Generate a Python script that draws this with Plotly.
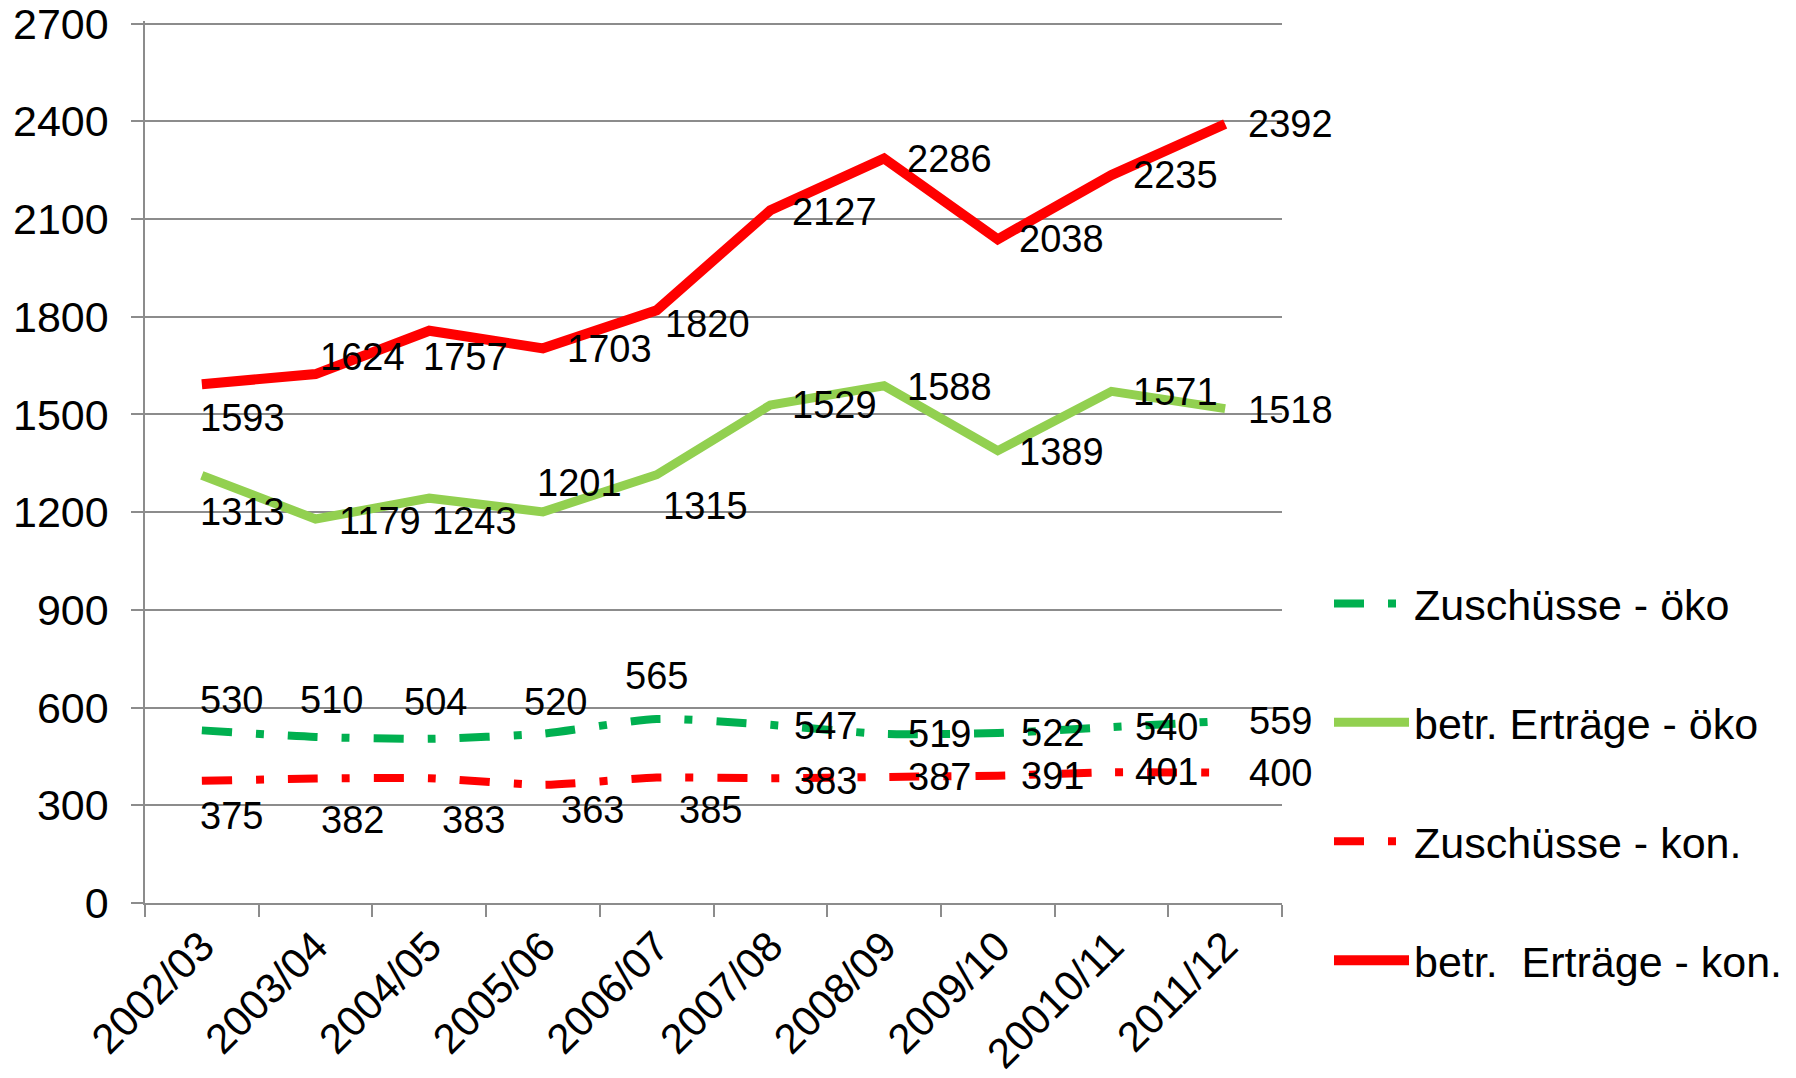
import plotly.graph_objects as go

categories = ["2002/03", "2003/04", "2004/05", "2005/06", "2006/07",
              "2007/08", "2008/09", "2009/10", "20010/11", "2011/12"]

zuschuesse_oeko = [530, 510, 504, 520, 565, 547, 519, 522, 540, 559]
ertraege_oeko = [1313, 1179, 1243, 1201, 1315, 1529, 1588, 1389, 1571, 1518]
zuschuesse_kon = [375, 382, 383, 363, 385, 383, 387, 391, 401, 400]
ertraege_kon = [1593, 1624, 1757, 1703, 1820, 2127, 2286, 2038, 2235, 2392]

y_ticks = [0, 300, 600, 900, 1200, 1500, 1800, 2100, 2400, 2700]

# label offsets (screen px: dx right, dy down) relative to each point
off_zu_oeko = [(30, -30), (16, -37), (6, -37), (13, -32), (0, -43),
               (55, 1), (55, 0), (55, 0), (55, 0), (55, 0)]
off_er_oeko = [(41, 37), (64, 2), (45, 23), (37, -29), (49, 31),
               (64, 0), (65, 1), (64, 1), (64, 1), (65, 1)]
off_zu_kon = [(30, 35), (37, 41), (44, 42), (50, 25), (54, 32),
              (55, 3), (55, 0), (55, 0), (55, 0), (55, 0)]
off_er_kon = [(41, 34), (47, -17), (36, 26), (67, 1), (51, 14),
              (64, 2), (65, 1), (64, 0), (64, 0), (65, 0)]

FONT = "Liberation Sans, Arial, sans-serif"
GRID = "#8c8c8c"

series = [
    ("Zuschüsse - öko", zuschuesse_oeko, off_zu_oeko,
     dict(color="#00B050", width=8, dash="30px,24px,8px,24px", shape="spline", smoothing=0.6)),
    ("betr. Erträge - öko", ertraege_oeko, off_er_oeko,
     dict(color="#92D050", width=9)),
    ("Zuschüsse - kon.", zuschuesse_kon, off_zu_kon,
     dict(color="#FF0000", width=8, dash="30px,24px,8px,24px", shape="spline", smoothing=0.6)),
    ("betr.  Erträge - kon.", ertraege_kon, off_er_kon,
     dict(color="#FF0000", width=10)),
]

fig = go.Figure()
annotations = []
for i, (name, vals, offs, line) in enumerate(series):
    fig.add_trace(go.Scatter(
        x=categories, y=vals, mode="lines", name=name, line=line,
        legendgroup="g%d" % i, hoverinfo="skip",
    ))
    for c, v, (dx, dy) in zip(categories, vals, offs):
        annotations.append(dict(
            x=c, y=v, xref="x", yref="y", text=str(v), showarrow=False,
            xanchor="center", yanchor="middle", xshift=dx, yshift=-dy,
            font=dict(family=FONT, size=38, color="black"),
        ))

W, H = 1788, 1070  # page body has an 8px margin

fig.update_layout(
    width=W, height=H,
    margin=dict(l=137, r=514, t=13, b=175, autoexpand=False),
    paper_bgcolor="white", plot_bgcolor="white",
    font=dict(family=FONT, color="black"),
    showlegend=True,
    legend=dict(
        xref="container", yref="container",
        x=1321 / W, y=1 - 561 / H, xanchor="left", yanchor="top",
        font=dict(family=FONT, size=43, color="black"),
        traceorder="grouped", tracegroupgap=60, itemwidth=75,
        bgcolor="rgba(0,0,0,0)",
    ),
    annotations=annotations,
)

fig.update_xaxes(
    type="category", range=[-0.5, 9.5], automargin=False,
    showgrid=False, showline=True, linecolor=GRID, linewidth=1.5,
    ticks="outside", tickson="boundaries", ticklen=12, tickcolor=GRID, tickwidth=1.5,
    tickangle=-45, tickfont=dict(family=FONT, size=42, color="black"),
    ticklabeloverflow="allow",
    zeroline=False,
)
fig.update_yaxes(
    range=[0, 2708.1], tickvals=y_ticks, ticktext=[str(t) for t in y_ticks],
    automargin=False, ticklabeloverflow="allow",
    showgrid=True, gridcolor=GRID, gridwidth=1.5,
    showline=True, linecolor=GRID, linewidth=1.5,
    ticks="outside", ticklen=12, tickcolor=GRID, tickwidth=1.5,
    ticklabelstandoff=14,
    tickfont=dict(family=FONT, size=43, color="black"),
    zeroline=False,
)

fig.write_html("out.html")
